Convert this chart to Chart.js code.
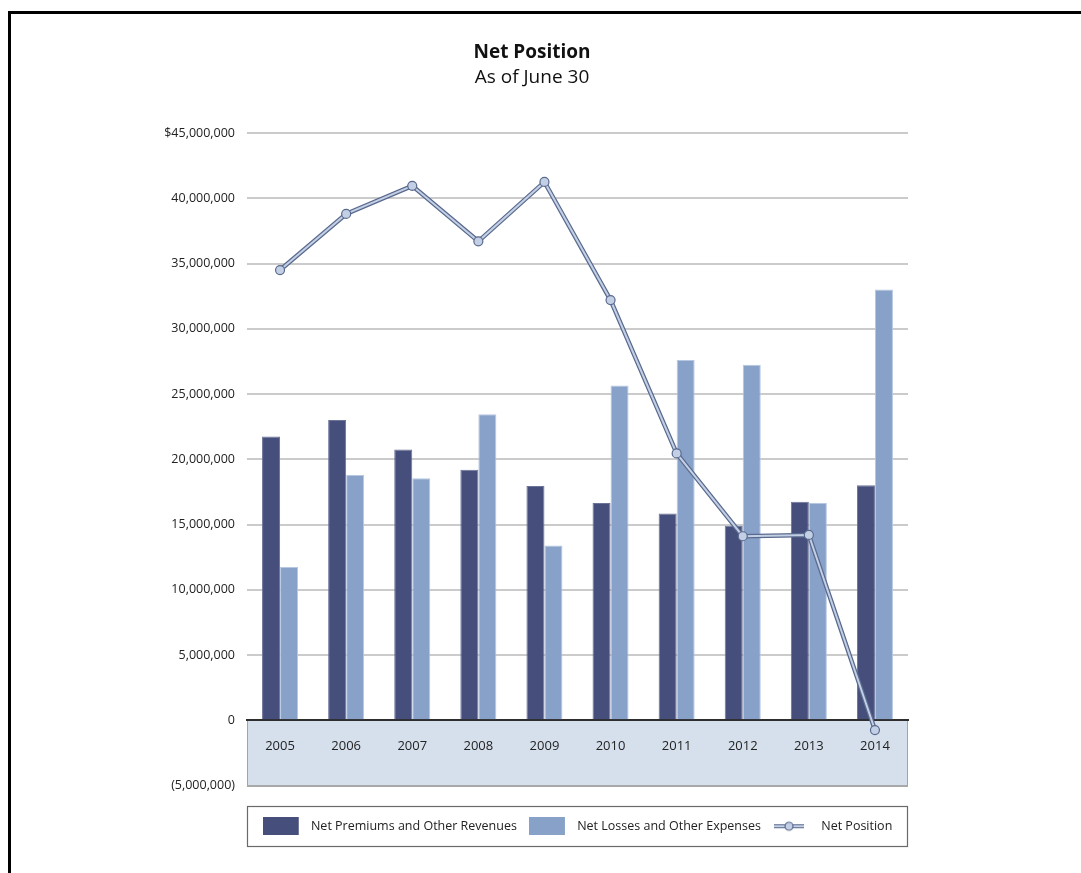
<!DOCTYPE html>
<html>
<head>
<meta charset="utf-8">
<title>Net Position</title>
<script src="https://cdn.jsdelivr.net/npm/chart.js@4.4.1/dist/chart.umd.min.js"></script>
<style>
  html, body { margin: 0; padding: 0; background: #fff; }
  body { width: 1081px; height: 873px; position: relative; overflow: hidden; }
  #frame { position: absolute; left: 8px; top: 11px; right: 0; bottom: 0; border-top: 3px solid #000; border-left: 3px solid #000; }
  canvas { position: absolute; left: 0; top: 0; }
</style>
</head>
<body>
<div id="frame"></div>
<canvas id="chart" width="1081" height="873"></canvas>
<script>
// values (dollars)
const years = ['2005', '2006', '2007', '2008', '2009', '2010', '2011', '2012', '2013', '2014'];
const premiums = [21750000, 23000000, 20750000, 19200000, 17950000, 16650000, 15850000, 14900000, 16750000, 18000000];
const losses = [11750000, 18800000, 18550000, 23450000, 13400000, 25650000, 27600000, 27250000, 16650000, 33000000];
const netPosition = [34500000, 38800000, 40950000, 36700000, 41250000, 32200000, 20450000, 14100000, 14200000, -750000];
const legendNames = ['Net Premiums and Other Revenues', 'Net Losses and Other Expenses', 'Net Position'];

const yMin = -5000000, yMax = 45000000, yStep = 5000000;

const darkBar = '#464f7b';
const lightBar = '#87a1c9';
const lineDark = '#5a6a8e';
const lineLight = '#c2cfe4';
const bandFill = '#d6e0ed';
const font = '"Open Sans", "Noto Sans", sans-serif';

const fmt = v => Math.abs(v).toLocaleString('en-US');

// legend swatches
function swatch(color) {
    const c = document.createElement('canvas'); c.width = 42; c.height = 18;
    const g = c.getContext('2d');
    g.fillStyle = color; g.fillRect(0, 0, 36, 18);
    return c;
}
function lineSwatch() {
    const c = document.createElement('canvas'); c.width = 42; c.height = 12;
    const g = c.getContext('2d');
    g.lineCap = 'butt';
    g.strokeStyle = lineDark; g.lineWidth = 4;
    g.beginPath(); g.moveTo(1, 6); g.lineTo(31, 6); g.stroke();
    g.strokeStyle = lineLight; g.lineWidth = 2;
    g.beginPath(); g.moveTo(1, 6); g.lineTo(31, 6); g.stroke();
    g.beginPath(); g.arc(16, 6, 4, 0, Math.PI * 2);
    g.fillStyle = lineLight; g.fill();
    g.strokeStyle = lineDark; g.lineWidth = 1.2; g.stroke();
    return c;
}
const swatches = [swatch(darkBar), swatch(lightBar), lineSwatch()];

// light band below zero + legend frame
const decor = {
    id: 'decor',
    beforeDraw(chart) {
        const { ctx, chartArea: a, scales: { y } } = chart;
        const y0 = y.getPixelForValue(0);
        ctx.save();
        ctx.fillStyle = bandFill;
        ctx.fillRect(a.left, y0, a.right - a.left, a.bottom - y0);
        ctx.strokeStyle = '#a4a4a4'; ctx.lineWidth = 1;
        ctx.beginPath();
        ctx.moveTo(a.left + 0.5, y0); ctx.lineTo(a.left + 0.5, a.bottom);
        ctx.moveTo(a.right - 0.5, y0); ctx.lineTo(a.right - 0.5, a.bottom);
        ctx.stroke();
        ctx.restore();
    },
    afterDraw(chart) {
        const { ctx, chartArea: a, legend } = chart;
        const hb = legend.legendHitBoxes[0];
        if (!hb) return;
        const cy = hb.top + hb.height / 2;
        ctx.save();
        ctx.strokeStyle = '#6a6a6a'; ctx.lineWidth = 1.2;
        ctx.strokeRect(a.left + 0.5, Math.round(cy - 20) + 0.5, a.right - a.left - 1, 40);
        ctx.restore();
    }
};

new Chart(document.getElementById('chart'), {
    type: 'bar',
    data: {
        labels: years,
        datasets: [
            { label: legendNames[0], data: premiums, backgroundColor: darkBar, borderColor: '#6b7399', borderWidth: 1, order: 2 },
            { label: legendNames[1], data: losses, backgroundColor: lightBar, borderColor: '#b6c7e2', borderWidth: 1, order: 2 },
            { type: 'line', label: legendNames[2], data: netPosition, borderColor: lineDark, borderWidth: 4.5, pointRadius: 0, tension: 0, order: 1 },
            { type: 'line', label: legendNames[2], data: netPosition, borderColor: lineLight, borderWidth: 2, tension: 0, order: 0,
              pointRadius: 4.5, pointBackgroundColor: lineLight, pointBorderColor: lineDark, pointBorderWidth: 1.2 }
        ]
    },
    options: {
        responsive: false,
        animation: false,
        devicePixelRatio: 1,
        datasets: { bar: { categoryPercentage: 0.545, barPercentage: 1.0 } },
        layout: { padding: { left: 156, right: 173, top: 0, bottom: 30.5 } },
        plugins: {
            tooltip: { enabled: false },
            title: {
                display: true, text: 'Net Position', color: '#111',
                font: { family: font, size: 19, weight: 'bold' },
                padding: { top: 41.6, bottom: 0 }
            },
            subtitle: {
                display: true, text: 'As of June 30', color: '#111',
                font: { family: font, size: 19, weight: 'normal' },
                padding: { top: 2.2, bottom: 43.6 }
            },
            legend: {
                position: 'bottom',
                fullSize: false,
                title: { display: true, text: ' ', font: { size: 10 }, padding: { top: 10.5, bottom: 0 } },
                labels: {
                    usePointStyle: true,
                    pointStyleWidth: 42,
                    padding: 12,
                    color: '#222',
                    font: { family: font, size: 12.5 },
                    generateLabels: () => legendNames.map((t, i) => ({
                        text: t, pointStyle: swatches[i], fontColor: '#222',
                        lineWidth: 0, strokeStyle: 'transparent', hidden: false, datasetIndex: i
                    }))
                }
            }
        },
        scales: {
            x: {
                type: 'category',
                position: { y: 0 },
                grid: { drawOnChartArea: false, drawTicks: false },
                border: { display: true, color: '#2e2e2e', width: 2 },
                ticks: { color: '#222', padding: 18, font: { family: font, size: 13 } }
            },
            y: {
                min: yMin, max: yMax,
                afterFit: s => { s.width = 91; },
                border: { display: false },
                grid: {
                    drawTicks: false, lineWidth: 2,
                    color: c => c.tick && c.tick.value === yMin ? '#a8a8a8' : '#cbcbcb'
                },
                ticks: {
                    stepSize: yStep, padding: 12, color: '#222',
                    font: { family: font, size: 12.5 },
                    callback: v => v === yMax ? '$' + fmt(v) : v < 0 ? '(' + fmt(v) + ')' : fmt(v)
                }
            }
        }
    },
    plugins: [decor]
});
</script>
</body>
</html>
